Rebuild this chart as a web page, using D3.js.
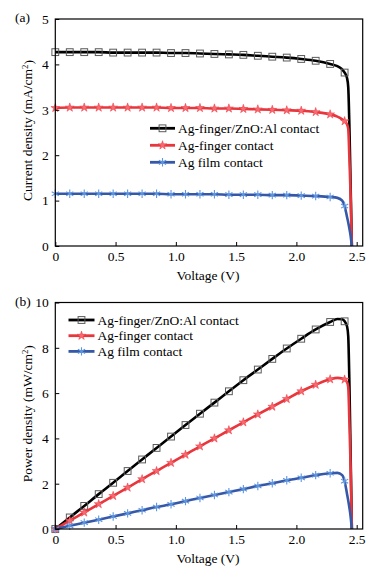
<!DOCTYPE html>
<html>
<head>
<meta charset="utf-8">
<script src="https://cdn.jsdelivr.net/npm/d3@7/dist/d3.min.js"></script>
<style>
  body { margin: 0; background: #fff; }
  svg { display: block; font-family: "Liberation Serif", "Times New Roman", serif; }
</style>
</head>
<body>
<script>
// voltage grid (V) shared by all curves
var voltage = [0, 0.12, 0.24, 0.36, 0.48, 0.60, 0.72, 0.84, 0.96, 1.08, 1.20, 1.32, 1.44, 1.56,
  1.68, 1.80, 1.92, 2.04, 2.16, 2.28, 2.34, 2.38, 2.40, 2.42, 2.43, 2.44, 2.45, 2.46];
// voltages where a marker is drawn
var markerVoltage = [0, 0.12, 0.24, 0.36, 0.48, 0.60, 0.72, 0.84, 0.96, 1.08, 1.20, 1.32, 1.44,
  1.56, 1.68, 1.80, 1.92, 2.04, 2.16, 2.28, 2.40];

// (a) current density, mA/cm2
var jBlack = [4.27, 4.27, 4.27, 4.27, 4.26, 4.26, 4.26, 4.26, 4.25, 4.25, 4.24, 4.23, 4.22, 4.21,
  4.19, 4.17, 4.15, 4.12, 4.08, 4.01, 3.96, 3.89, 3.82, 3.70, 3.50, 2.60, 1.30, 0];
var jRed = [3.04, 3.05, 3.05, 3.05, 3.05, 3.05, 3.05, 3.05, 3.04, 3.04, 3.04, 3.03, 3.03, 3.02,
  3.01, 3.00, 2.99, 2.98, 2.95, 2.90, 2.85, 2.79, 2.75, 2.68, 2.58, 1.90, 1.10, 0];
var jBlue = [1.15, 1.15, 1.15, 1.15, 1.15, 1.15, 1.15, 1.15, 1.14, 1.14, 1.14, 1.14, 1.13, 1.13,
  1.13, 1.12, 1.12, 1.11, 1.10, 1.08, 1.06, 1.00, 0.88, 0.64, 0.52, 0.38, 0.22, 0];

// (b) power density, mW/cm2
var pBlack = [0, 0.51, 1.02, 1.54, 2.04, 2.56, 3.07, 3.58, 4.08, 4.59, 5.09, 5.58, 6.08, 6.57,
  7.04, 7.51, 7.97, 8.40, 8.81, 9.14, 9.27, 9.26, 9.17, 8.95, 8.51, 6.34, 3.19, 0];
var pRed = [0, 0.37, 0.73, 1.10, 1.46, 1.83, 2.20, 2.56, 2.92, 3.28, 3.65, 4.00, 4.36, 4.71,
  5.06, 5.40, 5.74, 6.08, 6.37, 6.61, 6.67, 6.64, 6.60, 6.49, 6.27, 4.64, 2.70, 0];
var pBlue = [0, 0.14, 0.28, 0.41, 0.55, 0.69, 0.83, 0.97, 1.09, 1.23, 1.37, 1.50, 1.63, 1.76,
  1.90, 2.02, 2.15, 2.26, 2.38, 2.46, 2.48, 2.38, 2.11, 1.55, 1.26, 0.93, 0.54, 0];

var seriesNames = ['Ag-finger/ZnO:Al contact', 'Ag-finger contact', 'Ag film contact'];
var vTicks = [0, 0.5, 1.0, 1.5, 2.0, 2.5];
var vTickLabels = ['0', '0.5', '1.0', '1.5', '2.0', '2.5'];
var jTicks = [0, 1, 2, 3, 4, 5];
var pTicks = [0, 2, 4, 6, 8, 10];

var W = 386, H = 572;
var fontSize = 13.5;
var serif = '"Liberation Serif", "Times New Roman", serif';
var styles = [
  {color: '#000000', marker: 'square'},
  {color: '#e8363c', marker: 'star'},
  {color: '#3558a8', marker: 'asterisk'}
];

var svg = d3.select('body').append('svg')
  .attr('width', W)
  .attr('height', H)
  .attr('font-family', serif);

var x = d3.scaleLinear().domain([0, 2.55]).range([55.3, 362.7]);

function drawMarker(g, type, cx, cy) {
  if (type == 'square') {
    g.append('rect')
      .attr('x', cx - 3.4).attr('y', cy - 3.4)
      .attr('width', 6.8).attr('height', 6.8)
      .attr('fill', 'none')
      .attr('stroke', '#5a5a5a')
      .attr('stroke-width', 1);
  } else if (type == 'star') {
    g.append('path')
      .attr('transform', 'translate(' + cx + ',' + cy + ')')
      .attr('d', d3.symbol().type(d3.symbolStar).size(24)())
      .attr('fill', '#f76a72')
      .attr('stroke', '#e8363c')
      .attr('stroke-width', 0.5);
  } else {
    g.append('path')
      .attr('transform', 'translate(' + cx + ',' + cy + ')')
      .attr('d', 'M0,-4.2V4.2M-3.6,-2.1L3.6,2.1M-3.6,2.1L3.6,-2.1')
      .attr('fill', 'none')
      .attr('stroke', '#5f95de')
      .attr('stroke-width', 1.1);
  }
}

function drawPanel(opt) {
  var y = d3.scaleLinear().domain(opt.domain).range([opt.bottom, opt.top]);
  var g = svg.append('g');

  // series lines + markers
  var line = d3.line()
    .x(function(d) { return x(d.v); })
    .y(function(d) { return y(d.val); })
    .curve(d3.curveMonotoneX);

  opt.series.forEach(function(vals, i) {
    var pts = voltage.map(function(v, k) { return {v: v, val: vals[k]}; });
    g.append('path')
      .datum(pts)
      .attr('d', line)
      .attr('fill', 'none')
      .attr('stroke', styles[i].color)
      .attr('stroke-width', 2.6)
      .attr('stroke-linejoin', 'round');
    var mg = g.append('g');
    pts.filter(function(d) { return markerVoltage.indexOf(d.v) >= 0; })
      .forEach(function(d) { drawMarker(mg, styles[i].marker, x(d.v), y(d.val)); });
  });

  // axes, inward ticks
  var xAxis = g.append('g')
    .attr('transform', 'translate(0,' + opt.bottom + ')')
    .call(d3.axisBottom(x).tickValues(vTicks)
      .tickFormat(function(d, i) { return vTickLabels[i]; })
      .tickSize(-4).tickPadding(5));
  var yAxis = g.append('g')
    .attr('transform', 'translate(' + x.range()[0] + ',0)')
    .call(d3.axisLeft(y).tickValues(opt.ticks).tickFormat(d3.format('d'))
      .tickSize(-4).tickPadding(6.5));
  [xAxis, yAxis].forEach(function(a) {
    a.attr('font-family', serif).attr('font-size', fontSize);
    a.select('.domain').remove();
    a.selectAll('line').attr('stroke', '#000').attr('stroke-width', 1);
    a.selectAll('text').attr('fill', '#000');
  });

  // frame
  g.append('rect')
    .attr('x', x.range()[0])
    .attr('y', opt.top)
    .attr('width', x.range()[1] - x.range()[0])
    .attr('height', opt.bottom - opt.top)
    .attr('fill', 'none')
    .attr('stroke', '#000')
    .attr('stroke-width', 1.2);

  // titles
  g.append('text')
    .attr('x', 208).attr('y', opt.bottom + 34)
    .attr('text-anchor', 'middle')
    .attr('font-size', fontSize)
    .text('Voltage (V)');
  var yt = g.append('text')
    .attr('transform', 'translate(31.5,' + ((opt.top + opt.bottom) / 2 - 2) + ')rotate(-90)')
    .attr('text-anchor', 'middle')
    .attr('font-size', fontSize);
  yt.append('tspan').text(opt.yTitle);
  yt.append('tspan').attr('dy', '-0.4em').attr('font-size', fontSize * 0.65).text('2');
  yt.append('tspan').attr('dy', '0.4em').text(')');

  g.append('text')
    .attr('x', 15).attr('y', opt.top + 3)
    .attr('font-size', fontSize)
    .text(opt.label);

  // legend
  var lg = g.append('g');
  seriesNames.forEach(function(name, i) {
    var ly = opt.legY + i * opt.legStep;
    lg.append('line')
      .attr('x1', opt.legX).attr('x2', opt.legX + opt.legLen)
      .attr('y1', ly).attr('y2', ly)
      .attr('stroke', styles[i].color)
      .attr('stroke-width', 2.8);
    drawMarker(lg, styles[i].marker, opt.legX + opt.legLen / 2, ly);
    lg.append('text')
      .attr('x', opt.legX + opt.legLen + 3)
      .attr('y', ly + 4.6)
      .attr('font-size', fontSize)
      .text(name);
  });
}

drawPanel({
  top: 19, bottom: 246, domain: [0, 5], ticks: jTicks,
  series: [jBlack, jRed, jBlue],
  yTitle: 'Current density (mA/cm', label: '(a)',
  legX: 150, legLen: 25, legY: 128.3, legStep: 17
});

drawPanel({
  top: 302.5, bottom: 529, domain: [0, 10], ticks: pTicks,
  series: [pBlack, pRed, pBlue],
  yTitle: 'Power density (mW/cm', label: '(b)',
  legX: 68.5, legLen: 26, legY: 320, legStep: 15.7
});
</script>
</body>
</html>
